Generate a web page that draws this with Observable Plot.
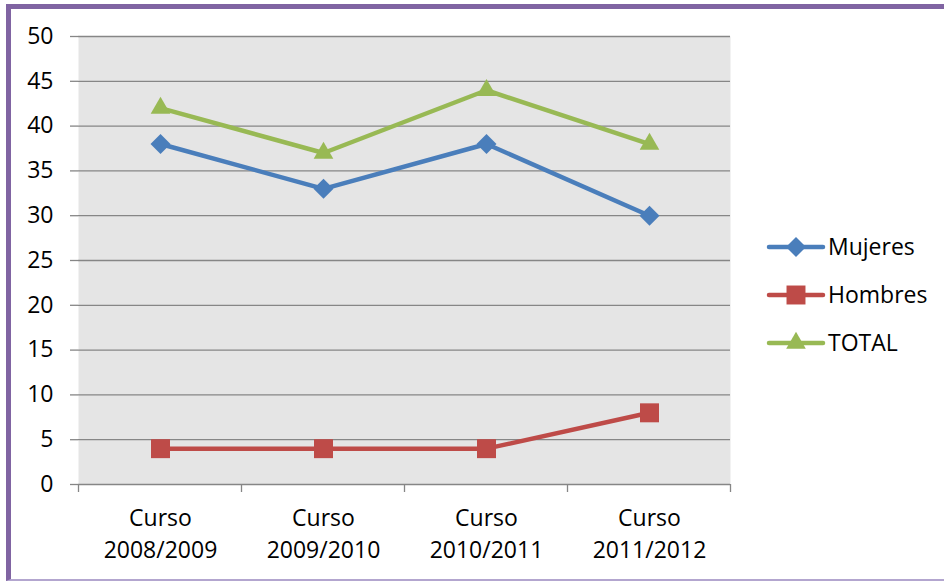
<!DOCTYPE html>
<html>
<head>
<meta charset="utf-8">
<script src="https://cdn.jsdelivr.net/npm/d3@7"></script>
<script src="https://cdn.jsdelivr.net/npm/@observablehq/plot@0.6"></script>
<style>
  html, body { margin: 0; padding: 0; background: #fff; }
  body { width: 944px; height: 581px; overflow: hidden; position: relative; font-family: "Open Sans", sans-serif; }
  #frame { position: absolute; left: 6px; top: 4px; width: 960px; height: 577px; box-sizing: border-box;
           border-top: 5px solid #8064a2; border-left: 5px solid #8064a2; border-bottom: 2px solid #b3a6cf; }
  #chart { position: absolute; left: 0; top: 0; }
  #chart svg { overflow: visible; }
</style>
</head>
<body>
<div id="frame"></div>
<div id="chart"></div>
<script>
const categories = ["Curso 2008/2009", "Curso 2009/2010", "Curso 2010/2011", "Curso 2011/2012"];
const mujeres = [38, 33, 38, 30];
const hombres = [4, 4, 4, 8];
const total = [42, 37, 44, 38];
const seriesNames = ["Mujeres", "Hombres", "TOTAL"];
const seriesColors = ["#4a7ebb", "#be4b48", "#98b954"];
const seriesSymbols = ["diamond2", "square", "triangle"];
const seriesRadius = [9, 10.7, 7.3];
const yTicks = [0, 5, 10, 15, 20, 25, 30, 35, 40, 45, 50];

const seriesValues = [mujeres, hombres, total];
const rows = [];
seriesNames.forEach((s, si) => {
  categories.forEach((c, ci) => rows.push({series: s, cat: c, value: seriesValues[si][ci]}));
});

const gridColor = "#868686";
const fontSize = 23;

const marks = [
  Plot.frame({fill: "#e5e5e5", stroke: null}),
  Plot.ruleY(yTicks, {stroke: gridColor, strokeWidth: 1.3}),
  Plot.ruleX([0], {stroke: gridColor, strokeWidth: 1.3, frameAnchor: "left"}),
];
seriesNames.forEach((s, si) => {
  const data = rows.filter(r => r.series === s);
  marks.push(Plot.line(data, {x: "cat", y: "value", stroke: seriesColors[si], strokeWidth: 4.5,
    strokeLinecap: "round", strokeLinejoin: "round"}));
  marks.push(Plot.dot(data, {x: "cat", y: "value", fill: seriesColors[si], stroke: null,
    symbol: seriesSymbols[si], r: seriesRadius[si]}));
});
marks.push(Plot.text(categories, {x: d => d, frameAnchor: "bottom", dy: 41, text: d => d.split(" ")[0],
  fontSize: fontSize, fill: "#000"}));
marks.push(Plot.text(categories, {x: d => d, frameAnchor: "bottom", dy: 73, text: d => d.split(" ")[1],
  fontSize: fontSize, fill: "#000"}));

const chart = Plot.plot({
  width: 944,
  height: 581,
  marginLeft: 78,
  marginRight: 214,
  marginTop: 36,
  marginBottom: 97,
  style: {fontFamily: "Open Sans, sans-serif", fontSize: fontSize + "px", background: "transparent", color: "#000"},
  x: {type: "point", domain: categories, padding: 0.5, align: 0.5, axis: null},
  y: {domain: [0, 50], ticks: yTicks, tickSize: 8, tickPadding: 17, label: null, tickFormat: d => d},
  marks
});
document.getElementById("chart").appendChild(chart);

const svg = d3.select(chart);
svg.selectAll("[aria-label='y-axis'] path, [aria-label='y-axis'] line, [aria-label='y-axis tick'] path").attr("stroke", gridColor).attr("stroke-width", 1.3);
svg.selectAll("[aria-label='y-axis'] text, [aria-label='y-axis tick label'] text").attr("fill", "#000");

// category boundary ticks on the x axis, placed with Plot's x scale
const xs = chart.scale("x");
const yScale = chart.scale("y");
const step = xs.step;
const boundaries = categories.map(c => xs.apply(c) - step / 2).concat([xs.apply(categories[categories.length - 1]) + step / 2]);
const y0 = yScale.apply(0);
const g = svg.append("g");
g.selectAll("line.b").data(boundaries).join("line")
  .attr("x1", d => d).attr("x2", d => d).attr("y1", y0).attr("y2", y0 + 8)
  .attr("stroke", gridColor).attr("stroke-width", 1.3);

// legend
const leg = svg.append("g").attr("font-family", "Open Sans, sans-serif").attr("font-size", fontSize)
  .attr("text-anchor", "start");
const legY = [247, 295, 343];
seriesNames.forEach((s, i) => {
  const gi = leg.append("g").attr("transform", `translate(0,${legY[i]})`);
  gi.append("line").attr("x1", 769).attr("x2", 823).attr("stroke", seriesColors[i])
    .attr("stroke-width", 4.5).attr("stroke-linecap", "round");
  const symMap = {diamond2: d3.symbolDiamond2, square: d3.symbolSquare, triangle: d3.symbolTriangle};
  gi.append("path").attr("transform", "translate(796,0)")
    .attr("d", d3.symbol(symMap[seriesSymbols[i]], Math.PI * seriesRadius[i] ** 2)())
    .attr("fill", seriesColors[i]);
  gi.append("text").attr("x", 828).attr("dy", "0.35em").attr("text-anchor", "start").attr("fill", "#000").text(s);
});
</script>
</body>
</html>
